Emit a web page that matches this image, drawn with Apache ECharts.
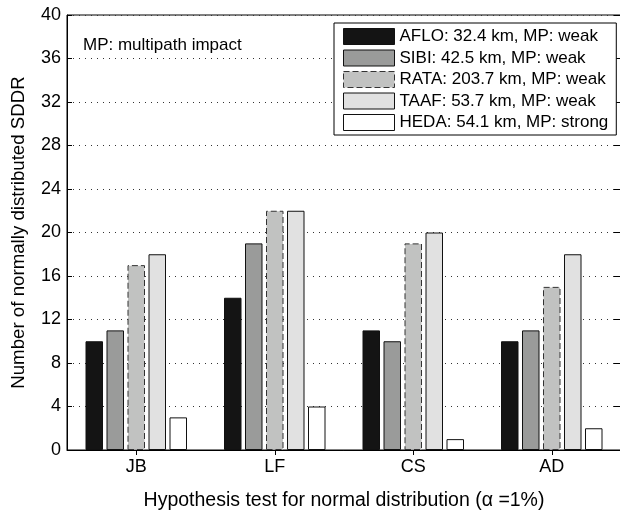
<!DOCTYPE html>
<html>
<head>
<meta charset="utf-8">
<script src="https://cdn.jsdelivr.net/npm/echarts@6/dist/echarts.min.js"></script>
<style>
  html, body { margin: 0; padding: 0; background: #fff; }
  #chart { width: 620px; height: 513px; }
</style>
</head>
<body>
<div id="chart"></div>
<script>
// hypothesis tests on the x axis
const tests = ['JB', 'LF', 'CS', 'AD'];
// number of normally distributed SDDR per station
const afloVals = [10, 14, 11, 10];
const sibiVals = [11, 19, 10, 11];
const rataVals = [17, 22, 19, 15];
const taafVals = [18, 22, 20, 18];
const hedaVals = [3, 4, 1, 2];
const stationNames = [
  'AFLO: 32.4 km, MP: weak',
  'SIBI: 42.5 km, MP: weak',
  'RATA: 203.7 km, MP: weak',
  'TAAF: 53.7 km, MP: weak',
  'HEDA: 54.1 km, MP: strong'
];
const yTicks = [0, 4, 8, 12, 16, 20, 24, 28, 32, 36, 40];

const FONT = '"Liberation Sans", Arial, Helvetica, sans-serif';
const chart = echarts.init(document.getElementById('chart'));

// 柱子样式
function barSeries(name, data, fill, dashed) {
  return {
    name: name,
    type: 'bar',
    barWidth: 17.5,
    barGap: '20%',
    itemStyle: {
      color: fill,
      borderColor: dashed ? '#333' : '#111',
      borderWidth: 1,
      borderType: dashed ? [6, 3] : 'solid'
    },
    data: data
  };
}

const option = {
  animation: false,
  textStyle: { fontFamily: FONT },
  grid: {
    left: 67,
    top: 15,
    width: 554,
    bottom: 63,
    outerBoundsMode: 'none',
    containLabel: false,
    show: true,
    borderColor: '#000',
    borderWidth: 1
  },
  legend: {
    orient: 'vertical',
    left: 334,
    top: 23,
    width: 279,
    padding: [5, 8, 4, 9],
    icon: 'rect',
    itemWidth: 51,
    itemHeight: 16,
    itemGap: 4.5,
    backgroundColor: '#fff',
    borderColor: '#000',
    borderWidth: 1,
    borderRadius: 0,
    selectedMode: false,
    itemStyle: { borderType: 'inherit', borderWidth: 1 },
    textStyle: { fontSize: 17, color: '#000', fontFamily: FONT },
    data: stationNames
  },
  graphic: [{
    type: 'text',
    left: 83,
    top: 37,
    style: { text: 'MP: multipath impact', fontSize: 17, fill: '#000', fontFamily: FONT }
  }],
  xAxis: [{
    type: 'category',
    data: tests,
    position: 'bottom',
    axisLine: { lineStyle: { color: '#000', width: 1 } },
    axisTick: { show: false },
    axisLabel: { color: '#000', fontSize: 18, margin: 8 },
    name: 'Hypothesis test for normal distribution (\u03b1 =1%)',
    nameLocation: 'middle',
    nameGap: 41,
    nameTextStyle: { color: '#000', fontSize: 19.5 }
  }, {
    type: 'category',
    data: tests,
    position: 'top',
    axisLine: { show: false },
    axisTick: { show: true, inside: true, length: 5, alignWithLabel: true, lineStyle: { color: '#000' } },
    axisLabel: { show: false }
  }],
  yAxis: [{
    type: 'value',
    min: 0,
    max: 40,
    interval: 4,
    axisLine: { show: true, lineStyle: { color: '#000', width: 1 } },
    axisTick: { show: true, inside: true, length: 5, lineStyle: { color: '#000' } },
    axisLabel: { color: '#000', fontSize: 18, margin: 6 },
    splitLine: { show: true, lineStyle: { color: '#333', type: [1, 5], width: 1 } },
    name: 'Number of normally distributed SDDR',
    nameLocation: 'middle',
    nameGap: 39,
    nameTextStyle: { color: '#000', fontSize: 18.7 }
  }, {
    type: 'value',
    min: 0,
    max: 40,
    interval: 4,
    position: 'right',
    axisLine: { show: false },
    axisTick: { show: true, inside: true, length: 7, lineStyle: { color: '#000' } },
    axisLabel: { show: false },
    splitLine: { show: false }
  }],
  series: [
    barSeries(stationNames[0], afloVals, '#141414', false),
    barSeries(stationNames[1], sibiVals, '#9a9b9a', false),
    barSeries(stationNames[2], rataVals, '#c1c2c1', true),
    barSeries(stationNames[3], taafVals, '#e1e1e1', false),
    barSeries(stationNames[4], hedaVals, '#ffffff', false)
  ]
};

chart.setOption(option);
</script>
</body>
</html>
